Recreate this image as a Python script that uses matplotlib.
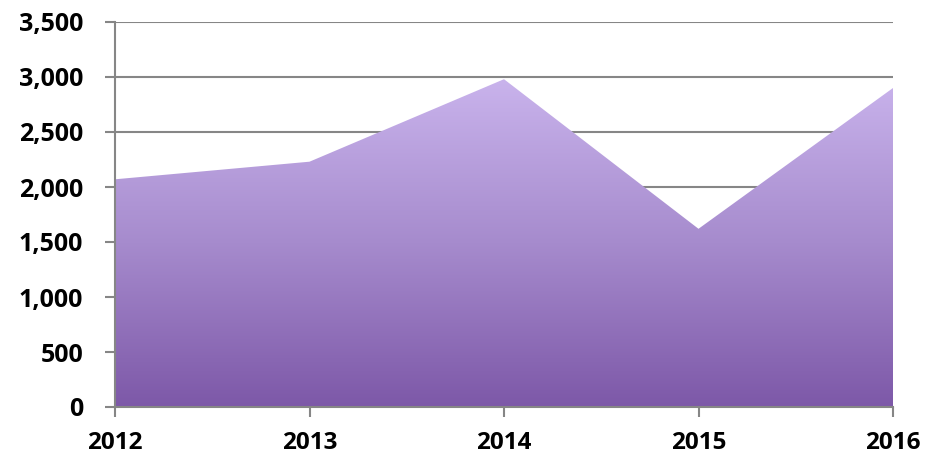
import numpy as np
import matplotlib.pyplot as plt
from matplotlib.colors import LinearSegmentedColormap
from matplotlib.patches import Polygon

years = [2012, 2013, 2014, 2015, 2016]
values = [2070, 2230, 2980, 1620, 2900]
yticks = [0, 500, 1000, 1500, 2000, 2500, 3000, 3500]

plt.rcParams['font.family'] = ['Open Sans', 'DejaVu Sans']

fig = plt.figure(figsize=(9.26, 4.59), dpi=100)
ax = fig.add_axes([115 / 926, 1 - 407 / 459, (893 - 115) / 926, (407 - 22) / 459])

# gradient fill clipped to the area polygon
grad_cmap = LinearSegmentedColormap.from_list("grad", ["#7d58a8", "#a68bcd", "#c9b3ec"])
ymax = max(values)
grad = np.linspace(0, 1, 256).reshape(-1, 1)
img = ax.imshow(grad, cmap=grad_cmap, origin='lower', aspect='auto',
                extent=[years[0], years[-1], 0, ymax], zorder=2)
verts = [(years[0], 0)] + list(zip(years, values)) + [(years[-1], 0)]
poly = Polygon(verts, closed=True, facecolor='none', edgecolor='none')
ax.add_patch(poly)
img.set_clip_path(poly)

# faint shadow along the right edge
ax.plot([years[-1] + 0.008, years[-1] + 0.008], [0, values[-1] - 30],
        color='#d0d0d0', lw=2, zorder=1)

ax.set_xlim(years[0], years[-1])
ax.set_ylim(0, 3500)
ax.set_yticks(yticks)
ax.set_yticklabels([f"{v:,}" for v in yticks])
ax.set_xticks(years)
ax.set_xticklabels([str(y) for y in years])

ax.grid(axis='y', color='#868686', lw=1.5, zorder=0)
ax.set_axisbelow(True)
for s in ['top', 'right']:
    ax.spines[s].set_visible(False)
for s in ['left', 'bottom']:
    ax.spines[s].set_color('#868686')
    ax.spines[s].set_linewidth(1.5)
    ax.spines[s].set_zorder(3)

ax.tick_params(axis='y', length=7, width=1.5, color='#868686', pad=16, labelsize=18)
ax.tick_params(axis='x', length=7, width=1.5, color='#868686', pad=10, labelsize=17.5)
for lbl in ax.get_xticklabels() + ax.get_yticklabels():
    lbl.set_fontweight('bold')

fig.savefig("out.png", dpi=100)
